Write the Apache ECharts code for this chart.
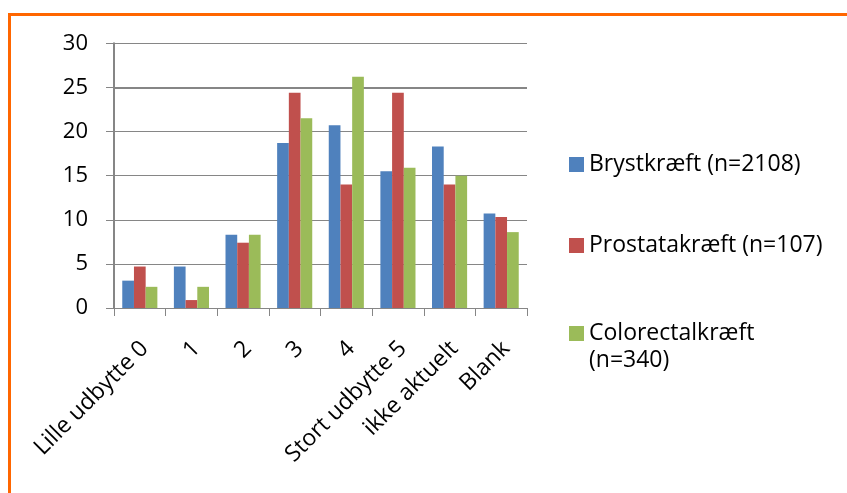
<!DOCTYPE html>
<html>
<head>
<meta charset="utf-8">
<script src="https://cdn.jsdelivr.net/npm/echarts@6/dist/echarts.min.js"></script>
<style>
html,body{margin:0;padding:0;background:#fff;}
#chart{width:847px;height:493px;}
</style>
</head>
<body>
<div id="chart"></div>
<script>
var categories = ['Lille udbytte 0', '1', '2', '3', '4', 'Stort udbytte 5', 'ikke aktuelt', 'Blank'];
var seriesNames = ['Brystkræft (n=2108)', 'Prostatakræft (n=107)', 'Colorectalkræft (n=340)'];
var bryst = [3.1, 4.7, 8.3, 18.7, 20.7, 15.5, 18.3, 10.7];
var prostata = [4.7, 0.9, 7.4, 24.4, 14.0, 24.4, 14.0, 10.3];
var colorectal = [2.4, 2.4, 8.3, 21.5, 26.2, 15.9, 15.0, 8.6];
var yTicks = [0, 5, 10, 15, 20, 25, 30];

var FONT = 'Open Sans';
var colors = ['#4F81BD', '#C0504D', '#9BBB59'];
var chart = echarts.init(document.getElementById('chart'), null, {renderer: 'canvas'});

function legendFor(i, top, fmt) {
  return {
    data: [seriesNames[i]],
    orient: 'vertical',
    left: 569,
    top: top,
    itemWidth: 15,
    itemHeight: 15,
    itemGap: 0,
    padding: 0,
    icon: 'rect',
    selectedMode: false,
    textStyle: {fontFamily: FONT, fontSize: 23, color: '#000', lineHeight: 27},
    formatter: fmt
  };
}

var option = {
  backgroundColor: '#fff',
  animation: false,
  color: colors,
  grid: {left: 114, right: 320, top: 43.3, bottom: 185, containLabel: false},
  legend: [
    legendFor(0, 151),
    legendFor(1, 232),
    legendFor(2, 320 - 27, function (n) { return '\n' + n.replace(' (', '\n('); })
  ],
  xAxis: {
    type: 'category',
    data: categories,
    axisLine: {show: true, lineStyle: {color: '#868686', width: 1}},
    axisTick: {show: true, length: 8, alignWithLabel: false, lineStyle: {color: '#868686'}},
    axisLabel: {rotate: 45, interval: 0, margin: 42, padding: [0, -7, 0, 0],
                fontFamily: FONT, fontSize: 23, color: '#000'},
    splitLine: {show: false}
  },
  yAxis: {
    type: 'value',
    min: yTicks[0],
    max: yTicks[yTicks.length - 1],
    interval: yTicks[1] - yTicks[0],
    axisLine: {show: true, lineStyle: {color: '#868686', width: 2}},
    axisTick: {show: true, length: 8, lineStyle: {color: '#868686'}},
    axisLabel: {margin: 26, fontFamily: FONT, fontSize: 22, color: '#000'},
    splitLine: {show: true, lineStyle: {color: '#868686', width: 1}}
  },
  series: [
    {name: seriesNames[0], type: 'bar', data: bryst, barGap: '0%', barCategoryGap: '32%', z: 3,
     markLine: {silent: true, symbol: 'none', z: 1, label: {show: false},
                lineStyle: {color: '#868686', width: 2, type: 'solid'}, data: [{yAxis: 25}]}},
    {name: seriesNames[1], type: 'bar', data: prostata, barGap: '0%', barCategoryGap: '32%', z: 3},
    {name: seriesNames[2], type: 'bar', data: colorectal, barGap: '0%', barCategoryGap: '32%', z: 3}
  ],
  graphic: [{
    type: 'rect', left: 7, top: 12, silent: true, z: 100,
    shape: {x: 0, y: 0, width: 1000, height: 1000},
    style: {fill: 'none', stroke: '#FF6600', lineWidth: 3}
  }]
};
chart.setOption(option);
</script>
</body>
</html>
